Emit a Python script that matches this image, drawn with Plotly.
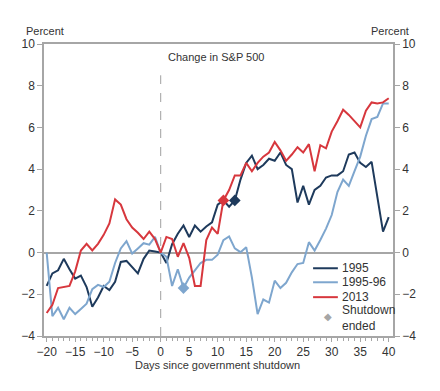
import plotly.graph_objects as go

days = list(range(-20, 41))

s1995 = [-1.6, -1.0, -0.85, -0.3, -0.8, -1.25, -1.1, -1.65, -2.6, -2.15,
         -1.6, -1.8, -1.4, -0.45, -0.4, -0.7, -1.0, -0.3, 0.1, 0.05,
         0.0, -0.5, 0.4, 0.9, 1.3, 0.75, 1.3, 1.0, 1.25, 1.45,
         2.3, 2.5, 2.2, 2.5, 3.5, 4.3, 4.65, 4.0, 4.2, 4.5,
         4.4, 4.8, 4.2, 4.0, 2.4, 3.2, 2.3, 3.0, 3.2, 3.6,
         3.7, 3.7, 3.9, 4.7, 4.8, 4.3, 4.1, 4.35, 2.6, 1.0, 1.7]

s199596 = [0.0, -3.05, -2.65, -3.2, -2.65, -2.95, -2.7, -2.45, -1.75, -1.55,
           -1.65, -1.4, -0.5, 0.2, 0.55, -0.05, 0.2, 0.45, 0.38, 0.75,
           0.0, -0.2, -1.6, -0.8, -1.7, -1.2, -0.85, -0.5, -0.35, -0.35,
           -0.1, 0.6, 0.77, 0.2, 0.02, 0.26, -1.2, -2.95, -2.25, -2.4,
           -1.35, -1.7, -1.45, -0.95, -0.55, -0.5, 0.5, 0.1, 0.6, 1.15,
           1.8, 2.9, 3.5, 3.2, 3.9, 4.6, 5.6, 6.4, 6.5, 7.15, 7.15]

s2013 = [-2.9, -2.5, -1.7, -1.65, -1.6, -0.9, 0.1, 0.42, 0.1, 0.42,
         0.85, 1.4, 2.55, 2.3, 1.6, 1.2, 0.95, 0.65, 1.0, 0.65,
         0.0, 0.75, 0.65, -0.2, 0.45, -0.25, -1.6, -1.6, 0.6, 1.2,
         0.9, 2.5, 3.0, 3.7, 3.7, 4.3, 3.9, 4.3, 4.6, 4.8,
         5.3, 4.9, 4.4, 4.7, 5.05, 4.8, 5.2, 3.9, 5.15, 5.0,
         5.8, 6.3, 6.85, 6.6, 6.3, 6.0, 6.8, 7.2, 7.15, 7.2, 7.4]

series_names = ["1995", "1995-96", "2013"]
series_values = [s1995, s199596, s2013]
series_colors = ["#1E3A5C", "#7EA6CE", "#D7373D"]
shutdown_end_day = [13, 4, 11]

x_tick_vals = list(range(-20, 41, 5))
y_tick_vals = list(range(-4, 11, 2))

FONT = "Liberation Sans, Arial, sans-serif"
AXIS_GRAY = "#A6A6A6"
TEXT = "#333333"

fig = go.Figure()

for name, vals, col in zip(series_names, series_values, series_colors):
    fig.add_trace(go.Scatter(x=days, y=vals, mode="lines", name=name,
                             line=dict(color=col, width=2), showlegend=False,
                             hoverinfo="skip"))

for vals, col, d in zip(series_values, series_colors, shutdown_end_day):
    fig.add_trace(go.Scatter(x=[d], y=[vals[days.index(d)]], mode="markers",
                             marker=dict(symbol="diamond", size=9, color=col),
                             showlegend=False, hoverinfo="skip"))

# invisible trace for the right axis
fig.add_trace(go.Scatter(x=[days[0]], y=[0], yaxis="y2", mode="markers",
                         marker=dict(opacity=0), showlegend=False, hoverinfo="skip"))

# vertical dashed line at day 0
fig.add_shape(type="line", xref="x", yref="y", x0=0, x1=0, y0=-4, y1=8.5,
              line=dict(color="#A0A0A0", width=1, dash="dash"), layer="below")

# manual legend
legend_y = [0.232, 0.184, 0.133]
for name, col, ly in zip(series_names, series_colors, legend_y):
    fig.add_shape(type="line", xref="paper", yref="paper", x0=0.771, x1=0.842,
                  y0=ly, y1=ly, line=dict(color=col, width=2))
    fig.add_annotation(x=0.848, y=ly, xref="paper", yref="paper", text=name,
                       showarrow=False, xanchor="left", yanchor="middle",
                       font=dict(family=FONT, size=12, color=TEXT))
fig.add_annotation(x=0.815, y=0.066, xref="paper", yref="paper", text="◆",
                   showarrow=False, xanchor="center", yanchor="middle",
                   font=dict(family="DejaVu Sans", size=10, color=AXIS_GRAY))
fig.add_annotation(x=0.848, y=0.06, xref="paper", yref="paper",
                   text="Shutdown<br>ended", showarrow=False, xanchor="left",
                   yanchor="middle", align="left",
                   font=dict(family=FONT, size=12, color=TEXT))

# texts
fig.add_annotation(x=0.003, y=1.043, xref="paper", yref="paper", text="Percent",
                   showarrow=False, xanchor="center", yanchor="middle",
                   font=dict(family=FONT, size=11, color=TEXT))
fig.add_annotation(x=0.991, y=1.043, xref="paper", yref="paper", text="Percent",
                   showarrow=False, xanchor="center", yanchor="middle",
                   font=dict(family=FONT, size=11, color=TEXT))
fig.add_annotation(x=0.493, y=0.954, xref="paper", yref="paper",
                   text="Change in S&P 500", showarrow=False,
                   xanchor="center", yanchor="middle",
                   font=dict(family=FONT, size=11, color=TEXT))
fig.add_annotation(x=0.498, y=-0.1, xref="paper", yref="paper",
                   text="Days since government shutdown", showarrow=False,
                   xanchor="center", yanchor="middle",
                   font=dict(family=FONT, size=11, color=TEXT))

# page body has an 8px margin; size the figure so the plot area lands where the reference has it
fig.update_layout(
    width=432, height=383,
    margin=dict(l=36, r=47, t=36, b=55),
    paper_bgcolor="white", plot_bgcolor="white",
    font=dict(family=FONT, size=12, color=TEXT),
    showlegend=False,
    xaxis=dict(range=[-20.47, 40.75], tickvals=x_tick_vals,
               ticks="outside", ticklen=4, tickcolor=AXIS_GRAY,
               minor=dict(dtick=1, tick0=0, ticks="outside", ticklen=3, tickcolor=AXIS_GRAY),
               showline=True, linecolor=AXIS_GRAY, linewidth=1.5, mirror=True,
               showgrid=False, zeroline=False,
               tickfont=dict(family=FONT, size=12, color=TEXT)),
    yaxis=dict(range=[-4, 10], tickvals=y_tick_vals,
               ticks="outside", ticklen=5, tickcolor=AXIS_GRAY,
               showline=True, linecolor=AXIS_GRAY, linewidth=1.5,
               showgrid=False, zeroline=True, zerolinecolor=AXIS_GRAY,
               zerolinewidth=1.5,
               tickfont=dict(family=FONT, size=12, color=TEXT)),
    yaxis2=dict(range=[-4, 10], tickvals=y_tick_vals, overlaying="y", side="right",
                ticks="outside", ticklen=5, tickcolor=AXIS_GRAY,
                showline=True, linecolor=AXIS_GRAY, linewidth=1.5,
                showgrid=False, zeroline=False,
                tickfont=dict(family=FONT, size=12, color=TEXT)),
)

fig.write_html("out.html")
